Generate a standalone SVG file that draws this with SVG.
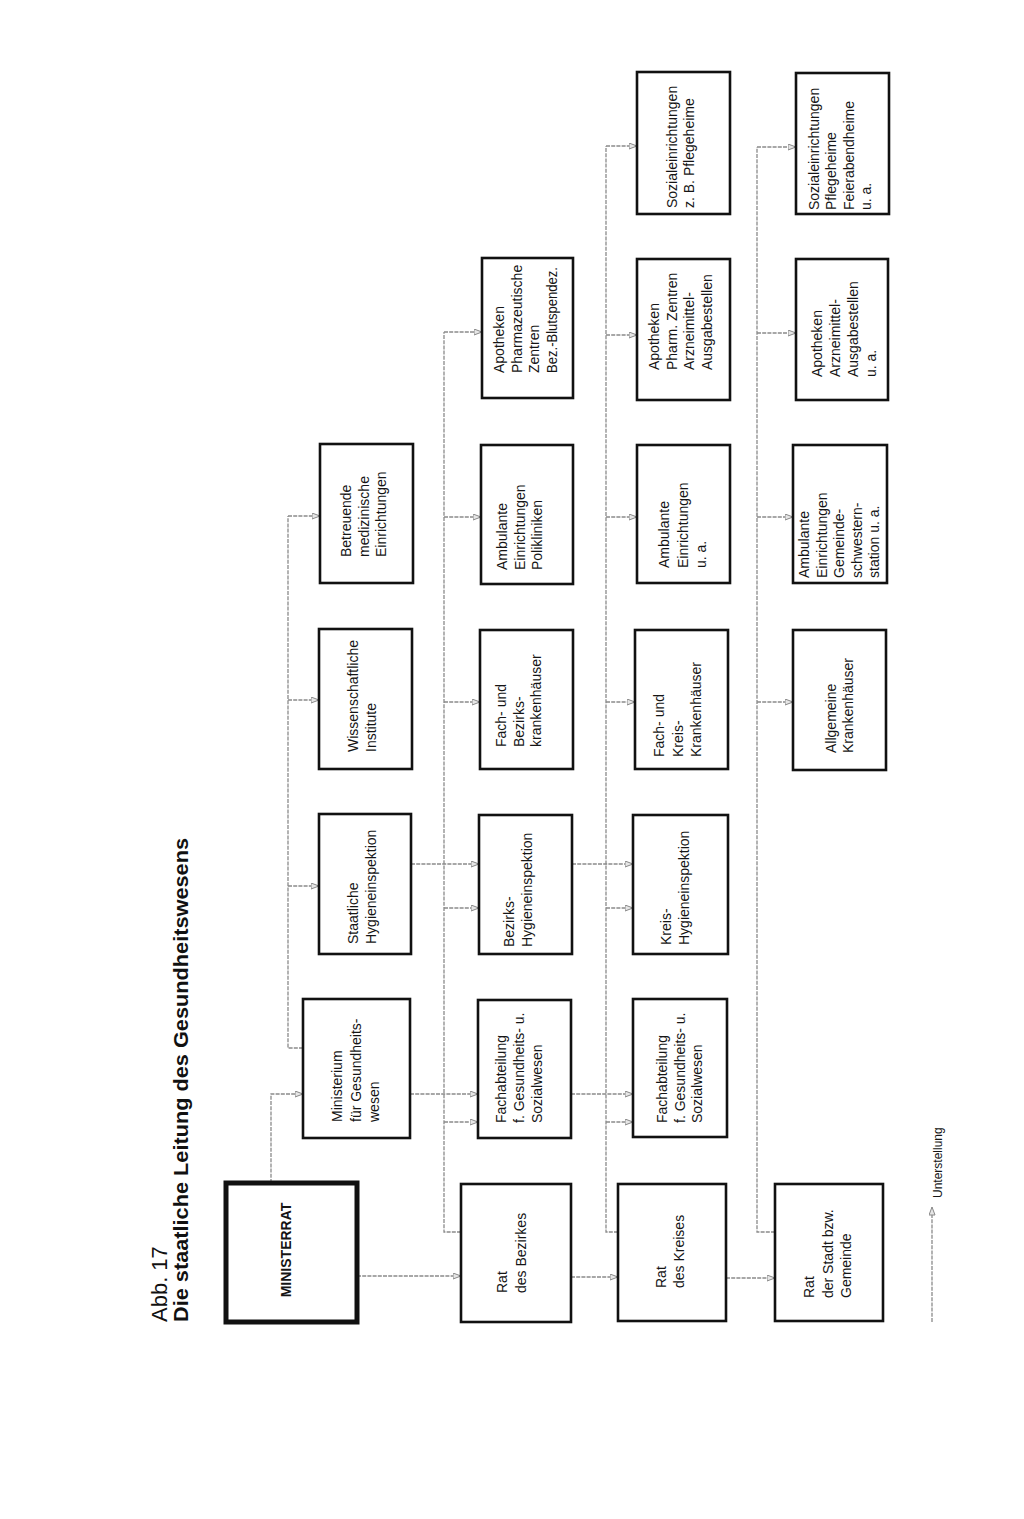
<svg xmlns="http://www.w3.org/2000/svg" width="1024" height="1519" viewBox="0 0 1024 1519">
<style>
.bx{fill:none;stroke:#111;stroke-width:2.6}
.bxm{fill:none;stroke:#111;stroke-width:5}
.t{font-family:"Liberation Sans",Arial,sans-serif;font-size:14px;fill:#151515}
.tm{font-family:"Liberation Sans",Arial,sans-serif;font-size:14px;font-weight:bold;fill:#151515}
.ti{font-family:"Liberation Sans",Arial,sans-serif;font-size:22px;fill:#111}
.tib{font-family:"Liberation Sans",Arial,sans-serif;font-size:21px;font-weight:bold;fill:#111}
.lg{font-family:"Liberation Sans",Arial,sans-serif;font-size:12px;fill:#151515}
.c{fill:none;stroke:#8a8a8a;stroke-width:1.3;stroke-dasharray:4 1.2}
.ca{fill:none;stroke:#8a8a8a;stroke-width:1.3;stroke-dasharray:4 1.2;marker-end:url(#ah)}
</style>
<defs>
<marker id="ah" markerUnits="userSpaceOnUse" markerWidth="10" markerHeight="8" refX="8.5" refY="3.5" orient="auto">
<path d="M0.5,0.5 L8.5,3.5 L0.5,6.5 Z" fill="#e6e6e6" stroke="#888" stroke-width="1"/>
</marker>
</defs>
<rect width="1024" height="1519" fill="#ffffff"/>

<g id="title">
<text class="ti" transform="translate(167,1322) rotate(-90)">Abb. 17</text>
<text class="tib" transform="translate(188,1322) rotate(-90)" textLength="484" lengthAdjust="spacingAndGlyphs">Die staatliche Leitung des Gesundheitswesens</text>
</g>

<g id="connectors">
<path class="ca" d="M357,1276 H461"/>
<path class="ca" d="M571,1277 H618"/>
<path class="ca" d="M726,1278 H775"/>
<path class="ca" d="M271,1183 V1094 H303"/>
<path class="ca" d="M410,1094 H478"/>
<path class="ca" d="M571,1094 H633"/>
<path class="ca" d="M411,864 H479"/>
<path class="ca" d="M572,864 H633"/>
<path class="c" d="M303,1048 H288 V516"/>
<path class="ca" d="M288,886 H319"/>
<path class="ca" d="M288,700 H319"/>
<path class="ca" d="M288,516 H320"/>
<path class="c" d="M461,1232 H444 V332"/>
<path class="ca" d="M444,1122 H478"/>
<path class="ca" d="M444,908 H479"/>
<path class="ca" d="M444,702 H480"/>
<path class="ca" d="M444,517 H481"/>
<path class="ca" d="M444,332 H482"/>
<path class="c" d="M618,1232 H606 V146"/>
<path class="ca" d="M606,1122 H633"/>
<path class="ca" d="M606,908 H633"/>
<path class="ca" d="M606,702 H635"/>
<path class="ca" d="M606,517 H637"/>
<path class="ca" d="M606,335 H637"/>
<path class="ca" d="M606,146 H637"/>
<path class="c" d="M775,1232 H757 V147"/>
<path class="ca" d="M757,702 H793"/>
<path class="ca" d="M757,517 H793"/>
<path class="ca" d="M757,333 H796"/>
<path class="ca" d="M757,147 H796"/>
</g>

<g id="n-ministerrat"><rect class="bxm" x="226" y="1183" width="131" height="139"/>
<text class="tm" text-anchor="middle" transform="translate(291,1250) rotate(-90)">MINISTERRAT</text></g>

<g id="n-ministerium"><rect class="bx" x="303" y="999" width="107" height="139"/>
<text class="t" transform="translate(342,1122) rotate(-90)"><tspan x="0" y="0">Ministerium</tspan><tspan x="0" y="18.5">für Gesundheits-</tspan><tspan x="0" y="37">wesen</tspan></text></g>

<g id="n-staatl-hyg"><rect class="bx" x="319" y="814" width="92" height="140"/>
<text class="t" transform="translate(358,944) rotate(-90)"><tspan x="0" y="0">Staatliche</tspan><tspan x="0" y="18">Hygieneinspektion</tspan></text></g>

<g id="n-wiss"><rect class="bx" x="319" y="629" width="93" height="140"/>
<text class="t" transform="translate(358,752) rotate(-90)"><tspan x="0" y="0">Wissenschaftliche</tspan><tspan x="0" y="18">Institute</tspan></text></g>

<g id="n-betreuende"><rect class="bx" x="320" y="444" width="93" height="139"/>
<text class="t" transform="translate(351,557) rotate(-90)"><tspan x="0" y="0">Betreuende</tspan><tspan x="0" y="17.5">medizinische</tspan><tspan x="0" y="35">Einrichtungen</tspan></text></g>

<g id="n-rat-bezirk"><rect class="bx" x="461" y="1184" width="110" height="138"/>
<text class="t" transform="translate(507,1293) rotate(-90)"><tspan x="0" y="0">Rat</tspan><tspan x="0" y="19">des Bezirkes</tspan></text></g>

<g id="n-fachabt-bezirk"><rect class="bx" x="478" y="1000" width="93" height="138"/>
<text class="t" transform="translate(506,1123) rotate(-90)"><tspan x="0" y="0">Fachabteilung</tspan><tspan x="0" y="18">f. Gesundheits- u.</tspan><tspan x="0" y="36">Sozialwesen</tspan></text></g>

<g id="n-bezirks-hyg"><rect class="bx" x="479" y="815" width="93" height="139"/>
<text class="t" transform="translate(514,947) rotate(-90)"><tspan x="0" y="0">Bezirks-</tspan><tspan x="0" y="18">Hygieneinspektion</tspan></text></g>

<g id="n-fach-bezirk-kh"><rect class="bx" x="480" y="630" width="93" height="139"/>
<text class="t" transform="translate(506,747) rotate(-90)"><tspan x="0" y="0">Fach- und</tspan><tspan x="0" y="17.5">Bezirks-</tspan><tspan x="0" y="35">krankenhäuser</tspan></text></g>

<g id="n-ambul-bezirk"><rect class="bx" x="481" y="445" width="92" height="139"/>
<text class="t" transform="translate(507,570) rotate(-90)"><tspan x="0" y="0">Ambulante</tspan><tspan x="0" y="17.5">Einrichtungen</tspan><tspan x="0" y="35">Polikliniken</tspan></text></g>

<g id="n-apoth-bezirk"><rect class="bx" x="482" y="258" width="91" height="140"/>
<text class="t" transform="translate(504,373) rotate(-90)"><tspan x="0" y="0">Apotheken</tspan><tspan x="0" y="17.7">Pharmazeutische</tspan><tspan x="0" y="35.4">Zentren</tspan><tspan x="0" y="53.1" textLength="106" lengthAdjust="spacingAndGlyphs">Bez.-Blutspendez.</tspan></text></g>

<g id="n-rat-kreis"><rect class="bx" x="618" y="1184" width="108" height="137"/>
<text class="t" transform="translate(666,1288) rotate(-90)"><tspan x="0" y="0">Rat</tspan><tspan x="0" y="18">des Kreises</tspan></text></g>

<g id="n-fachabt-kreis"><rect class="bx" x="633" y="999" width="94" height="138"/>
<text class="t" transform="translate(667,1123) rotate(-90)"><tspan x="0" y="0">Fachabteilung</tspan><tspan x="0" y="17.5">f. Gesundheits- u.</tspan><tspan x="0" y="35">Sozialwesen</tspan></text></g>

<g id="n-kreis-hyg"><rect class="bx" x="633" y="815" width="95" height="139"/>
<text class="t" transform="translate(671,945) rotate(-90)"><tspan x="0" y="0">Kreis-</tspan><tspan x="0" y="18">Hygieneinspektion</tspan></text></g>

<g id="n-fach-kreis-kh"><rect class="bx" x="635" y="630" width="93" height="139"/>
<text class="t" transform="translate(664,757) rotate(-90)"><tspan x="0" y="0">Fach- und</tspan><tspan x="0" y="18.5">Kreis-</tspan><tspan x="0" y="37">Krankenhäuser</tspan></text></g>

<g id="n-ambul-kreis"><rect class="bx" x="637" y="445" width="93" height="138"/>
<text class="t" transform="translate(669,568) rotate(-90)"><tspan x="0" y="0">Ambulante</tspan><tspan x="0" y="18.5">Einrichtungen</tspan><tspan x="0" y="37">u. a.</tspan></text></g>

<g id="n-apoth-kreis"><rect class="bx" x="637" y="259" width="93" height="141"/>
<text class="t" transform="translate(659,370) rotate(-90)"><tspan x="0" y="0">Apotheken</tspan><tspan x="0" y="17.7">Pharm. Zentren</tspan><tspan x="0" y="35.4">Arzneimittel-</tspan><tspan x="0" y="53.1">Ausgabestellen</tspan></text></g>

<g id="n-sozial-kreis"><rect class="bx" x="637" y="72" width="93" height="142"/>
<text class="t" transform="translate(677,208) rotate(-90)"><tspan x="0" y="0">Sozialeinrichtungen</tspan><tspan x="0" y="17">z. B. Pflegeheime</tspan></text></g>

<g id="n-rat-stadt"><rect class="bx" x="775" y="1184" width="108" height="137"/>
<text class="t" transform="translate(814,1298) rotate(-90)"><tspan x="0" y="0">Rat</tspan><tspan x="0" y="18.5">der Stadt bzw.</tspan><tspan x="0" y="37">Gemeinde</tspan></text></g>

<g id="n-allg-kh"><rect class="bx" x="793" y="630" width="93" height="140"/>
<text class="t" transform="translate(836,753) rotate(-90)"><tspan x="0" y="0">Allgemeine</tspan><tspan x="0" y="17">Krankenhäuser</tspan></text></g>

<g id="n-ambul-stadt"><rect class="bx" x="793" y="445" width="94" height="138"/>
<text class="t" transform="translate(809,578) rotate(-90)"><tspan x="0" y="0">Ambulante</tspan><tspan x="0" y="17.5">Einrichtungen</tspan><tspan x="0" y="35">Gemeinde-</tspan><tspan x="0" y="52.5">schwestern-</tspan><tspan x="0" y="70">station u. a.</tspan></text></g>

<g id="n-apoth-stadt"><rect class="bx" x="796" y="259" width="92" height="141"/>
<text class="t" transform="translate(822,377) rotate(-90)"><tspan x="0" y="0">Apotheken</tspan><tspan x="0" y="18">Arzneimittel-</tspan><tspan x="0" y="36">Ausgabestellen</tspan><tspan x="0" y="54">u. a.</tspan></text></g>

<g id="n-sozial-stadt"><rect class="bx" x="796" y="73" width="93" height="141"/>
<text class="t" transform="translate(819,210) rotate(-90)"><tspan x="0" y="0">Sozialeinrichtungen</tspan><tspan x="0" y="17.3">Pflegeheime</tspan><tspan x="0" y="34.6">Feierabendheime</tspan><tspan x="0" y="51.9">u. a.</tspan></text></g>

<g id="legend">
<path class="ca" d="M932,1322 V1207"/>
<text class="lg" transform="translate(942,1198) rotate(-90)">Unterstellung</text>
</g>
</svg>
